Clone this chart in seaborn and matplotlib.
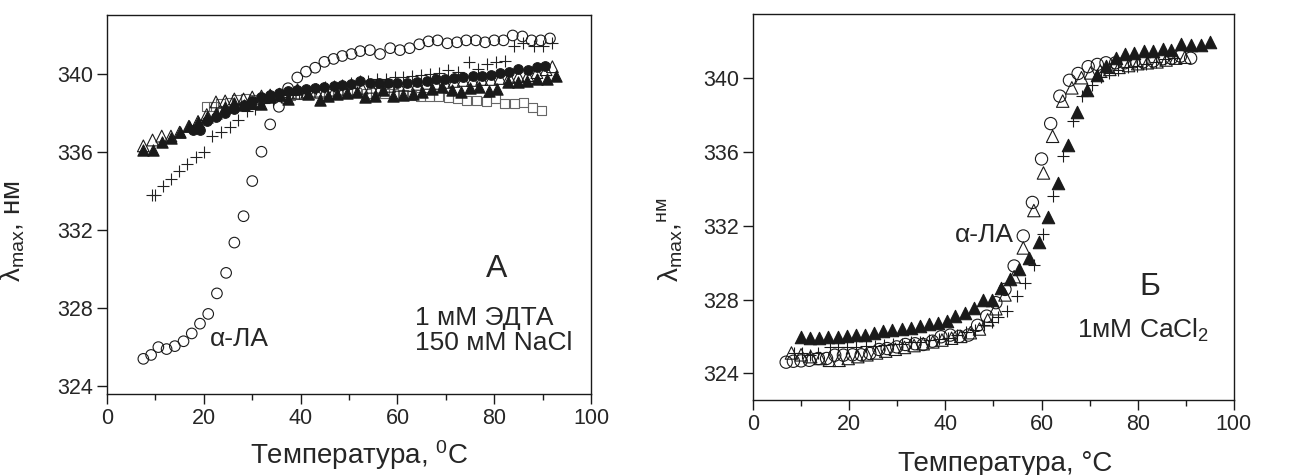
import numpy as np
import pandas as pd
import seaborn as sns
import matplotlib.pyplot as plt
from matplotlib.ticker import MultipleLocator

sns.set_theme(style='ticks')
plt.rcParams['font.family'] = ['Liberation Sans', 'DejaVu Sans']
plt.rcParams['mathtext.fontset'] = 'custom'
plt.rcParams['mathtext.rm'] = 'Liberation Sans'
plt.rcParams['mathtext.it'] = 'Liberation Sans:italic'

# ---- panel A (1 мМ ЭДТА, 150 мМ NaCl) ----
a_circ_x = [7.5, 9.1, 10.6, 12.3, 14.0, 15.8, 17.5, 19.2, 20.9, 22.7, 24.6, 26.3, 28.2, 30.0, 31.9,
            33.7, 35.5, 37.4, 39.3, 41.1, 43.0, 44.9, 46.8, 48.6, 50.5, 52.3, 54.3, 56.4, 58.5, 60.5,
            62.5, 64.5, 66.4, 68.3, 70.3, 72.3, 74.2, 76.2, 78.1, 80.0, 81.9, 83.8, 85.8, 87.7, 89.6, 91.5]
a_circ_y = [325.4, 325.6, 326.0, 325.9, 326.05, 326.3, 326.7, 327.2, 327.7, 328.75, 329.8, 331.35, 332.7, 334.5, 336.0,
            337.4, 338.3, 339.25, 339.8, 340.1, 340.3, 340.6, 340.75, 340.9, 341.0, 341.15, 341.2, 341.0, 341.3, 341.2,
            341.3, 341.5, 341.65, 341.7, 341.55, 341.6, 341.7, 341.7, 341.6, 341.7, 341.7, 341.95, 341.9, 341.7, 341.7, 341.8]

a_plus_x = [9.2, 9.9, 11.5, 13.2, 14.9, 16.6, 18.4, 20.0, 21.6, 23.5, 25.3, 27.0, 28.9, 30.6, 32.4,
            34.2, 36.0, 37.8, 39.6, 41.4, 43.2, 45.0, 46.8, 48.6, 50.4, 52.2, 54.0, 55.8, 57.6, 59.4,
            61.2, 63.0, 64.8, 66.7, 68.6, 70.5, 72.6, 74.7, 76.6, 78.4, 80.4, 82.2, 84.1, 86.0, 88.1, 90.0, 91.9]
a_plus_y = [333.8, 333.8, 334.26, 334.6, 335.0, 335.37, 335.73, 336.0, 336.8, 337.0, 337.27, 337.6, 338.07, 338.2, 338.5,
            338.67, 338.8, 338.9, 339.0, 339.1, 339.2, 339.3, 339.35, 339.4, 339.5, 339.6, 339.6, 339.7, 339.7, 339.8,
            339.85, 339.9, 339.95, 340.0, 340.05, 340.2, 340.1, 340.6, 340.25, 340.5, 340.6, 340.63, 341.4, 341.55, 341.4, 341.4, 341.55]

a_fcirc_x = [17.8, 19.2, 20.7, 22.5, 24.4, 26.3, 28.2, 30.0, 31.9, 33.7, 35.5, 37.4, 39.3, 41.1, 43.0,
             44.9, 46.8, 48.6, 50.5, 52.3, 54.3, 56.2, 58.1, 60.0, 62.0, 64.0, 66.0, 67.9, 69.8, 71.7,
             73.6, 75.5, 77.4, 79.3, 81.2, 83.1, 85.0, 86.9, 88.8, 90.4]
a_fcirc_y = [337.1, 337.1, 337.55, 337.8, 338.0, 338.2, 338.4, 338.6, 338.8, 338.9, 339.0, 339.1, 339.15, 339.2, 339.25,
             339.3, 339.35, 339.4, 339.45, 339.6, 339.5, 339.5, 339.5, 339.5, 339.5, 339.55, 339.6, 339.7, 339.7, 339.75,
             339.8, 339.9, 339.9, 339.95, 340.05, 340.1, 340.25, 340.2, 340.35, 340.4]

a_otri_x = [7.5, 9.4, 11.3, 13.2, 15.0, 16.9, 18.8, 20.6, 22.5, 24.4, 26.3, 28.2, 30.0, 31.9, 33.7,
            35.6, 37.5, 39.4, 41.3, 43.2, 45.1, 47.0, 48.9, 50.8, 52.7, 54.6, 56.5, 58.4, 60.3, 62.2,
            64.1, 66.0, 67.9, 69.8, 71.7, 73.6, 75.5, 77.4, 79.3, 81.2, 83.1, 85.0, 86.9, 88.8, 90.7, 92.0]
a_otri_y = [336.3, 336.6, 336.8, 336.8, 337.0, 337.3, 337.55, 337.9, 338.55, 338.6, 338.7, 338.7, 338.8, 338.85, 338.9,
            338.95, 339.0, 339.0, 339.05, 339.1, 339.1, 339.15, 339.2, 339.2, 339.25, 339.3, 339.3, 339.35, 339.4, 339.4,
            339.45, 339.5, 339.5, 339.55, 339.6, 339.65, 339.65, 339.7, 339.7, 339.75, 339.8, 339.85, 339.9, 340.05, 340.2, 340.35]

a_ftri_x = [7.5, 9.4, 11.3, 13.2, 15.0, 16.9, 18.8, 20.6, 22.5, 24.4, 26.3, 28.2, 30.0, 31.9, 33.7,
            35.5, 37.4, 39.3, 41.5, 43.9, 45.7, 47.6, 49.5, 51.6, 53.3, 55.4, 57.1, 59.0, 61.2, 63.2,
            65.0, 67.1, 69.2, 71.2, 73.1, 75.0, 76.9, 79.0, 80.6, 82.9, 84.8, 86.7, 88.8, 90.8, 92.8]
a_ftri_y = [336.1, 336.1, 336.5, 336.7, 337.0, 337.3, 337.5, 337.8, 338.0, 338.3, 338.5, 338.4, 338.5, 338.45, 338.8,
            338.9, 338.7, 339.2, 338.95, 338.67, 338.87, 338.96, 339.0, 339.04, 338.8, 338.84, 339.18, 338.84, 338.92, 338.96,
            339.04, 339.2, 339.3, 339.18, 339.04, 339.27, 339.3, 339.1, 339.2, 339.56, 339.56, 339.6, 339.7, 339.7, 339.86]

a_sq_x = [20.6, 22.0, 23.5, 25.2, 26.8, 28.5, 30.2, 32.2, 34.1, 36.1, 38.0, 39.9, 41.9, 43.8, 45.7,
          47.7, 49.6, 51.5, 53.5, 55.4, 57.3, 59.2, 61.2, 62.9, 64.7, 66.7, 68.5, 70.5, 72.3, 74.3,
          76.4, 78.3, 80.2, 82.2, 84.1, 86.1, 87.9, 89.8]
a_sq_y = [338.3, 338.3, 338.45, 338.5, 338.67, 338.7, 338.67, 338.7, 338.8, 338.84, 338.9, 338.95, 338.95, 339.0, 339.0,
          338.95, 339.0, 339.05, 339.0, 339.05, 339.0, 339.0, 338.95, 338.9, 338.84, 338.84, 338.84, 338.8, 338.7, 338.63,
          338.63, 338.58, 338.7, 338.46, 338.46, 338.5, 338.24, 338.12]

# ---- panel Б (1мМ CaCl2) ----
b_circ_x = [6.9, 8.4, 10.0, 11.7, 13.6, 15.3, 17.0, 18.8, 20.7, 22.5, 24.3, 26.2, 27.9, 29.9, 31.7,
            33.7, 35.4, 37.3, 39.1, 41.0, 42.9, 44.8, 46.7, 48.6, 50.5, 52.4, 54.3, 56.2, 58.1, 60.0,
            61.9, 63.8, 65.8, 67.6, 69.7, 71.6, 73.4, 75.4, 77.3, 79.2, 81.1, 83.2, 85.2, 87.0, 88.9, 91.0]
b_circ_y = [324.6, 324.65, 324.67, 324.7, 324.8, 324.8, 324.98, 324.98, 325.0, 325.0, 325.07, 325.29, 325.34, 325.43, 325.56,
            325.6, 325.56, 325.74, 325.98, 326.07, 326.0, 326.07, 326.6, 327.1, 327.83, 328.55, 329.82, 331.45, 333.27, 335.63,
            337.55, 339.04, 339.9, 340.27, 340.64, 340.76, 340.85, 340.85, 340.85, 340.9, 340.9, 340.95, 341.07, 341.1, 341.21, 341.1]

b_otri_x = [8.0, 10.0, 12.0, 14.0, 15.9, 17.9, 19.8, 21.8, 23.7, 25.7, 27.6, 29.6, 31.5, 33.5, 35.4,
            37.4, 39.3, 41.3, 43.2, 45.2, 47.1, 48.8, 50.5, 52.4, 54.3, 56.2, 58.4, 60.4, 62.3, 64.4,
            66.3, 68.3, 70.2, 72.2, 74.2, 76.1, 78.1, 80.0, 82.0, 84.0, 85.9, 87.9, 89.8]
b_otri_y = [325.1, 325.0, 324.9, 324.8, 324.7, 324.7, 324.8, 324.9, 325.0, 325.1, 325.2, 325.3, 325.4, 325.5, 325.6,
            325.7, 325.8, 325.9, 326.0, 326.2, 326.4, 326.9, 327.5, 328.25, 329.24, 330.8, 332.83, 334.87, 336.86, 338.77,
            339.49, 340.04, 340.3, 340.4, 340.49, 340.6, 340.7, 340.8, 340.85, 340.9, 341.0, 341.1, 341.15]

b_plus_x = [8.5, 10.2, 11.9, 13.6, 16.0, 17.7, 19.6, 21.5, 23.4, 25.3, 27.2, 29.1, 31.0, 32.9, 34.8,
            36.7, 38.6, 40.5, 42.4, 44.3, 46.2, 48.1, 49.6, 51.0, 52.9, 54.8, 56.5, 58.4, 60.4, 62.4,
            64.5, 66.5, 68.5, 70.4, 72.3, 74.1, 75.9, 77.9, 79.8, 81.8, 83.7, 85.7, 87.6]
b_plus_y = [325.1, 325.1, 325.0, 325.1, 325.4, 325.4, 325.45, 325.4, 325.5, 325.5, 325.55, 325.6, 325.6, 325.7, 325.7,
            325.8, 325.85, 325.9, 326.1, 326.25, 326.35, 326.6, 326.8, 327.06, 327.37, 328.19, 328.88, 329.88, 331.56, 333.6,
            335.77, 337.68, 339.04, 339.67, 340.1, 340.3, 340.45, 340.6, 340.7, 340.8, 340.9, 341.03, 341.1]

b_ftri_x = [10.0, 11.9, 13.8, 15.7, 17.6, 19.5, 21.4, 23.3, 25.2, 27.1, 29.0, 30.9, 32.8, 34.7, 36.6,
            38.5, 40.3, 42.1, 44.0, 45.9, 47.8, 49.6, 51.5, 53.4, 55.4, 57.4, 59.5, 61.4, 63.5, 65.4,
            67.4, 69.4, 71.5, 73.4, 75.5, 77.3, 79.3, 81.2, 83.2, 85.2, 87.0, 89.1, 91.1, 93.1, 95.0]
b_ftri_y = [325.95, 325.9, 325.9, 325.95, 325.95, 326.0, 326.05, 326.1, 326.2, 326.3, 326.35, 326.4, 326.45, 326.55, 326.65,
            326.75, 326.85, 327.1, 327.28, 327.52, 327.97, 328.0, 328.6, 329.1, 329.64, 330.24, 331.15, 332.5, 334.32, 336.4,
            338.2, 339.4, 340.2, 340.67, 341.1, 341.3, 341.4, 341.5, 341.5, 341.6, 341.57, 341.85, 341.8, 341.8, 341.98]

x_ticks = [0, 20, 40, 60, 80, 100]
y_ticks = [324, 328, 332, 336, 340]

fig = plt.figure(figsize=(12.96, 4.75), dpi=100)
axL = fig.add_axes([0.0826, 0.1705, 0.3735, 0.798])
axR = fig.add_axes([0.581, 0.158, 0.3711, 0.8126])

lw = 0.8
# panel A
sns.scatterplot(x=a_sq_x, y=a_sq_y, marker='s', s=42, fc='none', ec='#666666', linewidth=lw, ax=axL)
sns.scatterplot(x=a_otri_x, y=a_otri_y, marker='^', s=72, fc='none', ec='k', linewidth=lw, ax=axL)
sns.scatterplot(x=a_plus_x, y=a_plus_y, marker='+', s=65, color='#222222', linewidth=lw, ax=axL)
sns.scatterplot(x=a_fcirc_x, y=a_fcirc_y, marker='o', s=48, fc='k', ec='k', linewidth=lw, ax=axL)
sns.scatterplot(x=a_ftri_x, y=a_ftri_y, marker='^', s=66, fc='k', ec='k', linewidth=lw, ax=axL)
sns.scatterplot(x=a_circ_x, y=a_circ_y, marker='o', s=58, fc='none', ec='k', linewidth=lw, ax=axL)

# panel Б
sns.scatterplot(x=b_otri_x, y=b_otri_y, marker='^', s=80, fc='none', ec='k', linewidth=lw, ax=axR)
sns.scatterplot(x=b_plus_x, y=b_plus_y, marker='+', s=75, color='k', linewidth=lw, ax=axR)
sns.scatterplot(x=b_ftri_x, y=b_ftri_y, marker='^', s=80, fc='k', ec='k', linewidth=lw, ax=axR)
sns.scatterplot(x=b_circ_x, y=b_circ_y, marker='o', s=78, fc='none', ec='k', linewidth=lw, ax=axR)

for ax in (axL, axR):
    ax.set_xlim(0, 100)
    ax.set_xticks(x_ticks)
    ax.xaxis.set_minor_locator(MultipleLocator(10))
    ax.set_yticks(y_ticks)
    ax.tick_params(axis='both', which='major', labelsize=15.5, length=7, width=1, color='k', pad=3)
    ax.tick_params(axis='x', which='minor', length=4, width=1, color='k')
    for sp in ax.spines.values():
        sp.set_color('k')
        sp.set_linewidth(1.0)

axL.set_ylim(323.6, 343.0)
axR.set_ylim(322.55, 343.5)

axL.set_xlabel('Температура, $^{0}$C', fontsize=20)
axR.set_xlabel('Температура, °C', fontsize=20)
for ax in (axL, axR):
    ax.xaxis.label.set_va('center')
axL.xaxis.set_label_coords(0.52, -0.16)
axR.xaxis.set_label_coords(0.525, -0.165)
axL.set_ylabel('λ$_{\\mathrm{max}}$, нм', fontsize=20)
axR.set_ylabel('λ$_{\\mathrm{max}}$,$^{\\mathrm{нм}}$', fontsize=20)
axL.yaxis.set_label_coords(-0.165, 0.43)
axR.yaxis.set_label_coords(-0.141, 0.415)

axL.text(21.3, 326.4, 'α-ЛА', fontsize=19, ha='left', va='center')
axL.text(80.4, 330.0, 'A', fontsize=23, ha='center', va='center')
axL.text(63.6, 327.5, '1 мМ ЭДТА', fontsize=19, ha='left', va='center')
axL.text(63.6, 326.2, '150 мМ NaCl', fontsize=19, ha='left', va='center')

axR.text(42.0, 331.5, 'α-ЛА', fontsize=19, ha='left', va='center')
axR.text(82.5, 328.7, 'Б', fontsize=23, ha='center', va='center')
axR.text(67.4, 326.3, '1мМ CaCl$_{2}$', fontsize=19, ha='left', va='center')

fig.savefig('out.png', dpi=100)
